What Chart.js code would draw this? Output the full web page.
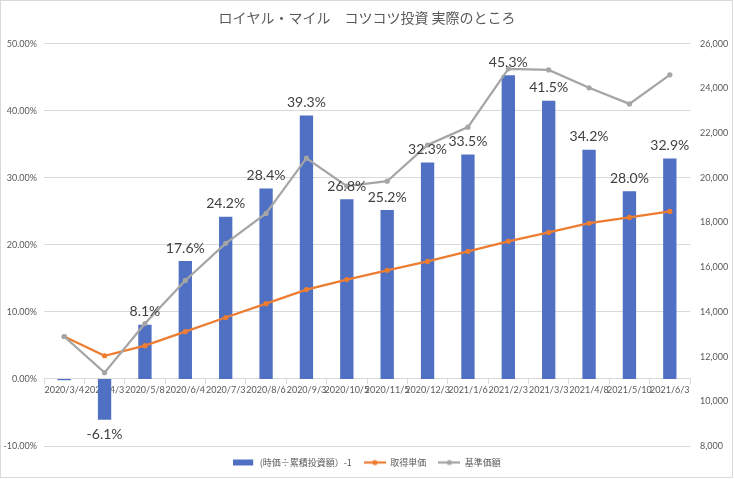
<!DOCTYPE html>
<html>
<head>
<meta charset="utf-8">
<script src="https://cdn.jsdelivr.net/npm/chart.js@4"></script>
<style>
html,body{margin:0;padding:0;background:#fff;}
#wrap{position:relative;width:734px;height:479px;}
</style>
</head>
<body>
<div id="wrap"><canvas id="c" width="734" height="479"></canvas></div>
<script>
const categories = ["2020/3/4","2020/4/3","2020/5/8","2020/6/4","2020/7/3","2020/8/6","2020/9/3","2020/10/5","2020/11/5","2020/12/3","2021/1/6","2021/2/3","2021/3/3","2021/4/8","2021/5/10","2021/6/3"];
const returnRatio = [-0.002,-0.061,0.081,0.176,0.242,0.284,0.393,0.268,0.252,0.323,0.335,0.453,0.415,0.342,0.280,0.329];
const labelShown = [false,true,true,true,true,true,true,true,true,true,true,true,true,true,true,true];
const avgCost = [12900,12040,12490,13120,13750,14370,15000,15450,15860,16260,16710,17160,17560,17970,18230,18500];
const navPrice = [12900,11280,13480,15410,17070,18410,20880,19630,19850,21470,22270,24880,24830,24030,23310,24610];
const leftTicks = {min:-0.1, max:0.5, step:0.1};
const rightTicks = {min:8000, max:26000, step:2000};

const seriesNames = ["(時価÷累積投資額）-1","取得単価","基準価額"];
const BLUE = "#5070C4", ORANGE = "#ED7D31", GRAY = "#A5A5A5";
const TXT = "#595959";
const FONT = "Lato, 'Liberation Sans', sans-serif";
const JFONT = "'Noto Sans CJK JP', sans-serif";

function legendIcon(kind, color){
  const cv = document.createElement('canvas');
  cv.width = 22; cv.height = 8;
  const g = cv.getContext('2d');
  if(kind === 'bar'){
    g.fillStyle = color; g.fillRect(0,1,20,6);
  } else {
    g.strokeStyle = color; g.lineWidth = 2.25;
    g.beginPath(); g.moveTo(0,4); g.lineTo(22,4); g.stroke();
    g.fillStyle = color; g.beginPath(); g.arc(11,4,2.6,0,Math.PI*2); g.fill();
  }
  return cv;
}

const labelPlugin = {
  id:'barLabels',
  afterDatasetsDraw(chart){
    const meta = chart.getDatasetMeta(0);
    const ctx = chart.ctx;
    ctx.save();
    ctx.font = "14px " + FONT;
    ctx.fillStyle = "#404040";
    ctx.textAlign = "center";
    ctx.textBaseline = "middle";
    meta.data.forEach((el,i)=>{
      if(!labelShown[i]) return;
      const v = returnRatio[i];
      const txt = (v*100).toFixed(1) + "%";
      const y = v >= 0 ? el.y - 13 : el.y + 15;
      ctx.fillText(txt, el.x, y);
    });
    ctx.restore();
  }
};
const borderPlugin = {
  id:'frame',
  beforeDraw(chart){
    const ctx = chart.ctx;
    ctx.save();
    ctx.fillStyle = "#fff";
    ctx.fillRect(0,0,chart.width,chart.height);
    ctx.restore();
  },
  afterDraw(chart){
    const ctx = chart.ctx;
    ctx.save();
    ctx.strokeStyle = "#d9d9d9"; ctx.lineWidth = 1;
    ctx.strokeRect(0.5,0.5,732,477);
    ctx.restore();
  }
};

new Chart(document.getElementById('c'), {
  data:{
    labels: categories,
    datasets:[
      {type:'bar', label:seriesNames[0], data:returnRatio, backgroundColor:BLUE, yAxisID:'y', order:3,
       barPercentage:0.33, categoryPercentage:1.0},
      {type:'line', label:seriesNames[1], data:avgCost, borderColor:ORANGE, backgroundColor:ORANGE, borderWidth:2.25,
       pointRadius:2.6, pointBorderWidth:0, pointBackgroundColor:ORANGE, yAxisID:'y1', order:2, tension:0,
       pointStyle:'circle'},
      {type:'line', label:seriesNames[2], data:navPrice, borderColor:GRAY, backgroundColor:GRAY, borderWidth:2.25,
       pointRadius:2.6, pointBorderWidth:0, pointBackgroundColor:GRAY, yAxisID:'y1', order:1, tension:0,
       pointStyle:'circle'}
    ]
  },
  options:{
    responsive:false,
    animation:false,
    layout:{padding:{left:0,right:0,top:0,bottom:2}},
    plugins:{
      title:{display:true, text:"ロイヤル・マイル　コツコツ投資 実際のところ", color:TXT,
        font:{family:JFONT, size:14, weight:'normal'}, padding:{top:9,bottom:18}},
      legend:{position:'bottom',
        labels:{color:TXT, font:{family:JFONT, size:9}, usePointStyle:true, pointStyleWidth:22, boxHeight:8, padding:12,
          sort:(a,b)=>a.datasetIndex-b.datasetIndex,
          generateLabels(chart){
            const icons=[legendIcon('bar',BLUE),legendIcon('line',ORANGE),legendIcon('line',GRAY)];
            return chart.data.datasets.map((ds,i)=>({text:ds.label, pointStyle:icons[i], fillStyle:'transparent',
              strokeStyle:'transparent', lineWidth:0, fontColor:TXT, datasetIndex:i, hidden:false}));
          }}},
      tooltip:{enabled:false}
    },
    scales:{
      x:{position:{y:0}, offset:true,
        grid:{display:true, drawOnChartArea:false, drawTicks:true, tickLength:5, color:'#d9d9d9', offset:true},
        border:{display:true, color:'#d9d9d9'},
        ticks:{color:TXT, font:{family:FONT, size:9}, maxRotation:0, minRotation:0, autoSkip:false, padding:1}},
      y:{position:'left', min:leftTicks.min, max:leftTicks.max,
        afterFit(s){s.width=44;},
        grid:{color:'#d9d9d9', drawTicks:false},
        border:{display:false},
        ticks:{stepSize:leftTicks.step, color:TXT, font:{family:FONT, size:9}, padding:7,
          callback:v=>(Math.round(v*10000)/100).toFixed(2)+'%'}},
      y1:{position:'right', min:rightTicks.min, max:rightTicks.max,
        afterFit(s){s.width=44;},
        grid:{drawOnChartArea:false, drawTicks:false},
        border:{display:false},
        ticks:{stepSize:rightTicks.step, color:TXT, font:{family:FONT, size:9}, padding:10,
          callback:v=>Math.round(v).toLocaleString('en-US')}}
    }
  },
  plugins:[labelPlugin,borderPlugin]
});
</script>
</body>
</html>
